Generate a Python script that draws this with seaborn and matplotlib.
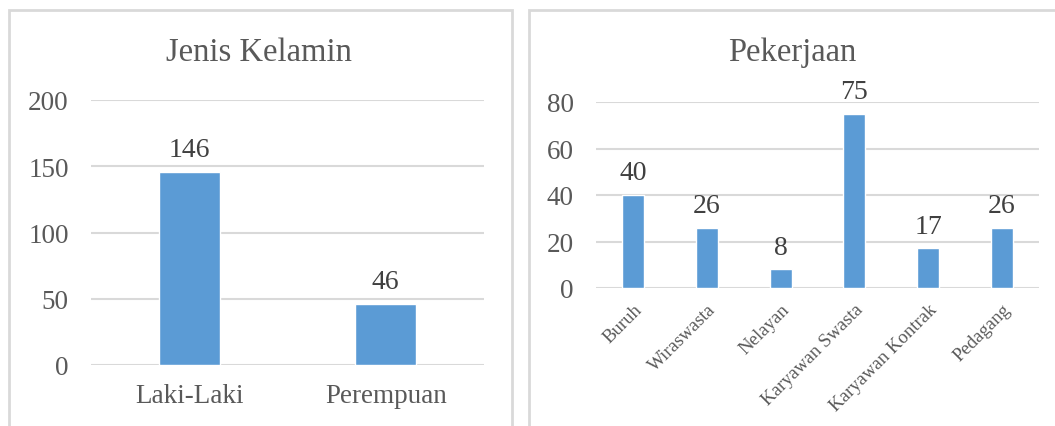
import matplotlib
matplotlib.use("Agg")
import matplotlib.pyplot as plt
from matplotlib.patches import Rectangle
import seaborn as sns
import pandas as pd

# data
gender_labels = ["Laki-Laki", "Perempuan"]
gender_counts = [146, 46]

job_labels = ["Buruh", "Wiraswasta", "Nelayan", "Karyawan Swasta",
              "Karyawan Kontrak", "Pedagang"]
job_counts = [40, 26, 8, 75, 17, 26]

sns.set_theme(style="white")
plt.rcParams["font.family"] = ["Liberation Serif", "DejaVu Serif"]

W, H = 1055, 427
BAR = "#5b9bd5"
GRID = "#d9d9d9"
TXT = "#595959"

fig = plt.figure(figsize=(W / 100, H / 100), dpi=100)
fig.patch.set_facecolor("white")


def px_axes(x0, x1, y_top, y_bot):
    return fig.add_axes([x0 / W, (H - y_bot) / H, (x1 - x0) / W, (y_bot - y_top) / H])


# panel frames
for x0, x1 in [(9, 512), (529, 1090)]:
    fig.patches.append(Rectangle((x0 / W, -0.1), (x1 - x0) / W, (H - 11) / H + 0.1,
                                 transform=fig.transFigure, fill=False,
                                 ec=GRID, lw=2))

df_g = pd.DataFrame({"jk": gender_labels, "n": gender_counts})
df_j = pd.DataFrame({"job": job_labels, "n": job_counts})

ax1 = px_axes(91, 484, 101, 366)
sns.barplot(data=df_g, x="jk", y="n", color=BAR, width=0.31, saturation=1, ax=ax1)
ax1.set_ylim(0, 200)
ax1.set_yticks([0, 50, 100, 150, 200])

ax2 = px_axes(596, 1039, 103, 289)
sns.barplot(data=df_j, x="job", y="n", color=BAR, width=0.30, saturation=1, ax=ax2)
ax2.set_ylim(0, 80)
ax2.set_yticks([0, 20, 40, 60, 80])

for ax in (ax1, ax2):
    ax.set_xlabel("")
    ax.set_ylabel("")
    ax.set_facecolor("none")
    for s in ax.spines.values():
        s.set_visible(False)
    ax.yaxis.grid(True, color=GRID, lw=1.5)
    ax.set_axisbelow(True)
    ax.tick_params(axis="y", length=0, pad=16, labelsize=19.5, labelcolor=TXT)
    ax.tick_params(axis="x", length=0, labelcolor=TXT)
    ax.bar_label(ax.containers[0], padding=7, fontsize=20, color="#404040")

ax1.tick_params(axis="x", labelsize=19.5, pad=13)
ax2.tick_params(axis="x", labelsize=13.5, pad=9)
for lab in ax2.get_xticklabels():
    lab.set_rotation(45)
    lab.set_ha("right")
    lab.set_rotation_mode("anchor")

fig.text(259 / W, 1 - 53 / H, "Jenis Kelamin", ha="center", va="center",
         fontsize=23.5, color=TXT)
fig.text(792 / W, 1 - 53 / H, "Pekerjaan", ha="center", va="center",
         fontsize=23.5, color=TXT)

fig.savefig("out.png", dpi=100)
